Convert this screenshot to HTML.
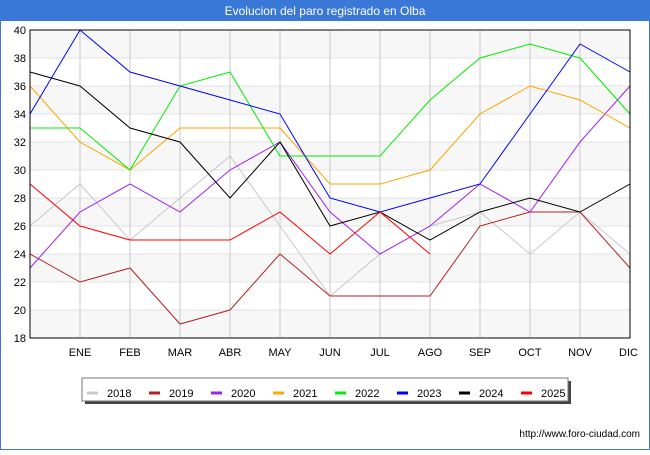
<!DOCTYPE html>
<html><head><meta charset="utf-8"><style>
body{margin:0;background:#fff}
svg text{font-family:"Liberation Sans","DejaVu Sans",sans-serif}
</style></head><body>
<svg id="chart" width="650" height="450" xmlns="http://www.w3.org/2000/svg">
<rect x="0.5" y="0.5" width="649" height="449" fill="#fff" stroke="#3a78d8" stroke-width="1"/>
<rect x="0" y="0" width="650" height="21" fill="#3a78d8"/>
<text x="325" y="15" text-anchor="middle" font-size="12" fill="#fff">Evolucion del paro registrado en Olba</text>
<g id="plot"></g>
<g id="legend">
<rect x="85" y="381" width="486" height="23" fill="#444"/>
<rect x="82" y="378" width="486" height="23" fill="#fff" stroke="#777"/>
</g>
<text x="640" y="437" text-anchor="end" font-size="10" fill="#000">http://www.foro-ciudad.com</text>
</svg>
<script>
const months=["","ENE","FEB","MAR","ABR","MAY","JUN","JUL","AGO","SEP","OCT","NOV","DIC"];
const yTicks=[18,20,22,24,26,28,30,32,34,36,38,40];
const years=["2018","2019","2020","2021","2022","2023","2024","2025"];
const colors=["#c8c8c8","#b22222","#a020f0","#ffa500","#00ee00","#0000ff","#000000","#ff0000"];
const s2018=[26,29,25,28,31,26,21,24,26,27,24,27,24];
const s2019=[24,22,23,19,20,24,21,21,21,26,27,27,23];
const s2020=[23,27,29,27,30,32,27,24,26,29,27,32,36];
const s2021=[36,32,30,33,33,33,29,29,30,34,36,35,33];
const s2022=[33,33,30,36,37,31,31,31,35,38,39,38,34];
const s2023=[34,40,37,36,35,34,28,27,28,29,34,39,37];
const s2024=[37,36,33,32,28,32,26,27,25,27,28,27,29];
const s2025=[29,26,25,25,25,27,24,27,24];
const series=[s2018,s2019,s2020,s2021,s2022,s2023,s2024,s2025];
const L=30,R=630,T=30,B=338,yMin=18,yMax=40;
const xs=i=>L+(R-L)*i/(months.length-1);
const ys=v=>B-(v-yMin)*(B-T)/(yMax-yMin);
const NS="http://www.w3.org/2000/svg";
const plot=document.getElementById('plot');
function mk(tag,at,parent){const e=document.createElementNS(NS,tag);for(const k in at)e.setAttribute(k,at[k]);(parent||plot).appendChild(e);return e;}
for(let i=0;i<yTicks.length-1;i++){
 if(i%2===0){const r=mk('rect',{x:L,y:ys(yTicks[i+1]),width:R-L,height:ys(yTicks[i])-ys(yTicks[i+1]),fill:'#f7f7f7'});
 
 }
}
yTicks.forEach(v=>{
 const l=mk('line',{x1:L,x2:R,y1:ys(v),y2:ys(v),stroke:'#e0e0e0'});
 
 
 const t=mk('text',{x:L-4,y:ys(v)+4,'text-anchor':'end','font-size':'11',fill:'#000'});
 
 
 t.textContent=v;
});
months.forEach((m,i)=>{
 if(i>0){const l=mk('line',{x1:xs(i),x2:xs(i),y1:T,y2:B,stroke:'#c8c8c8'});
 
 }
 const t=mk('text',{x:xs(i),y:B+18,'text-anchor':i===12?'end':'middle','font-size':'11',fill:'#000'});
 if(i===12)t.setAttribute('x',xs(i)+8);
 
 
 t.textContent=m;
});
series.forEach((s,k)=>{
 const p=mk('polyline',{points:s.map((v,i)=>xs(i)+','+ys(v)).join(' '),fill:'none',stroke:colors[k],'stroke-width':'1'});
 
 
});
const ax=mk('rect',{x:L,y:T,width:R-L,height:B-T,fill:'none',stroke:'#000'});


const lg=document.getElementById('legend');
years.forEach((y,k)=>{
 const x=87+k*62;
 const g=mk('g',{},lg);
 
 
 mk('line',{x1:x,x2:x+11,y1:393,y2:393,stroke:colors[k],'stroke-width':'3'},g);
 const t=mk('text',{x:x+20,y:397,'font-size':'11',fill:'#000'},g);
 t.textContent=y;
});
</script>
</body></html>
